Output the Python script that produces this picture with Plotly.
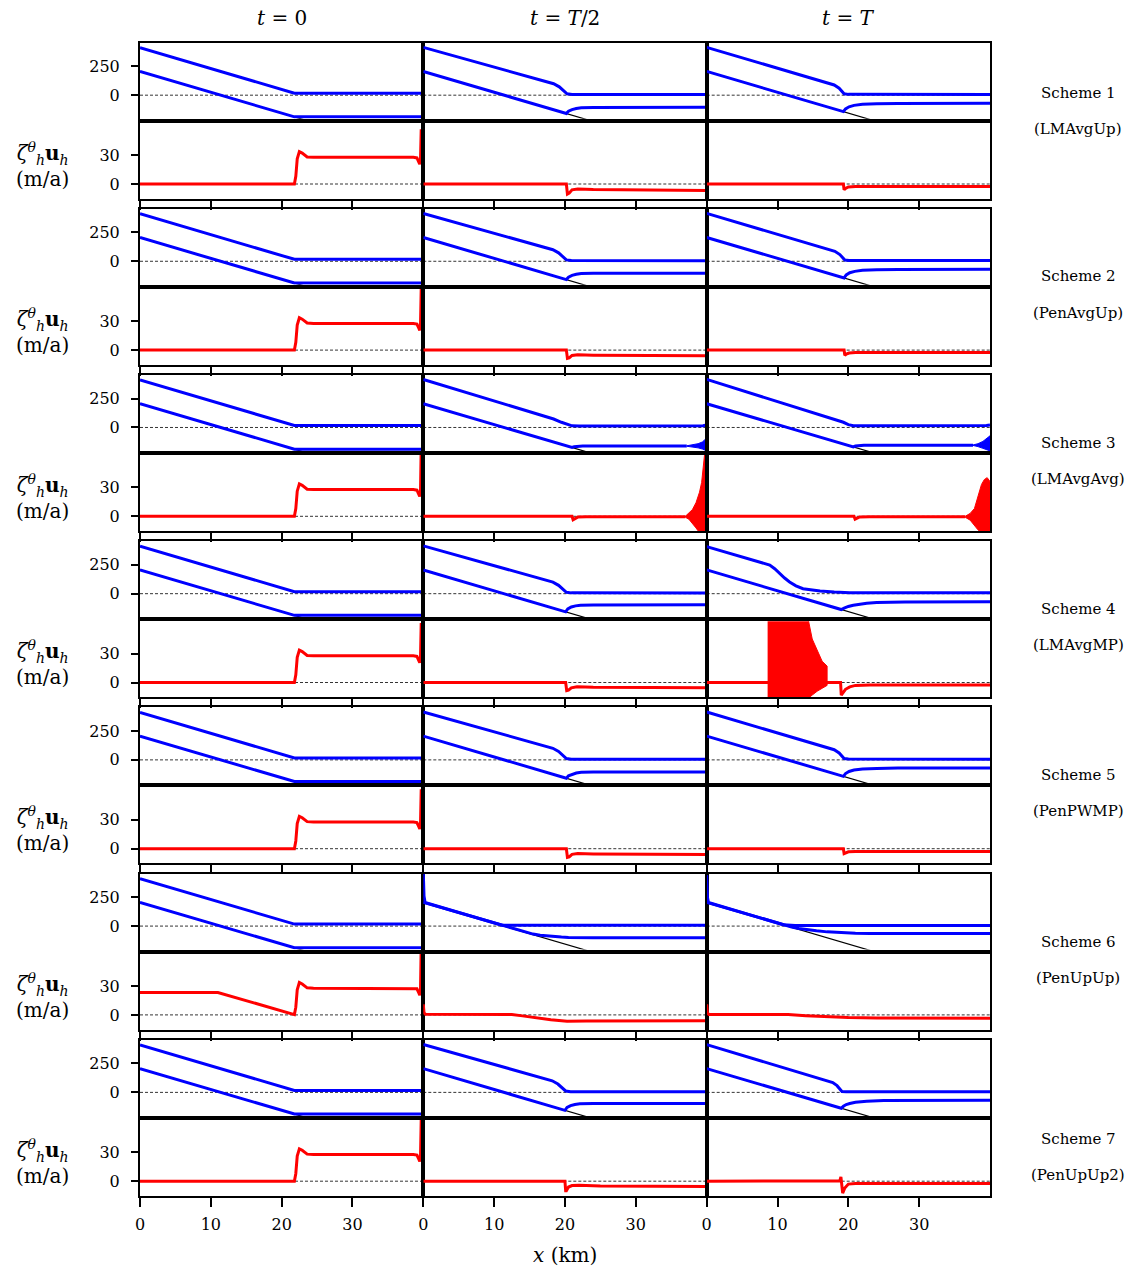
import plotly.graph_objects as go

FIG_W, FIG_H = 1141, 1269

BLUE = "#0000ff"
RED = "#ff0000"
SERIF = "DejaVu Serif"

# ---------------------------------------------------------------- labels / axes
COLUMN_TITLES = ["<i>t</i> = 0", "<i>t</i> = <i>T</i>/2", "<i>t</i> = <i>T</i>"]
SCHEME_NAMES = ["LMAvgUp", "PenAvgUp", "LMAvgAvg", "LMAvgMP", "PenPWMP", "PenUpUp", "PenUpUp2"]
GEO_TICKS = [0, 250]
VEL_TICKS = [0, 30]
X_TICKS = [0, 10, 20, 30]
X_RANGE = [0, 40]
GEO_RANGE = [-203, 453]
VEL_RANGE = [-15.2, 63.4]

# ---------------------------------------------------------------- bed topography (m)
BED_X = [0, 40]
BED_Z = [205, -515]

# ---------------------------------------------------------------- initial state, t = 0
T0_SURF_X = [0, 21.8, 40]
T0_SURF_Z = [410, 17, 17]
T0_BASE_X = [0, 21.8, 40]
T0_BASE_Z = [205, -187, -187]
T0_U_X = [0, 21.8, 22.0, 22.2, 22.5, 22.9, 23.6, 24.5, 38.6, 39.1, 39.35, 39.5, 39.6, 39.7, 40]
T0_U_BODY = [0, 0, 8, 26, 33.5, 32, 28, 27.6, 27.6, 27, 23, 20.5, 24]
T0_SPIKE_TOP = [55, 62, 70, 60, 60, 70, 62]

# ---------------------------------------------------------------- Scheme 1
S1_HALF_SURF_X = [0, 18.4, 19.2, 19.8, 20.3, 21.0, 40]
S1_HALF_SURF_Z = [413, 99, 72, 40, 12, 6, 5]
S1_HALF_BASE_X = [0, 20.2, 20.5, 21.0, 21.6, 22.3, 24, 40]
S1_HALF_BASE_Z = [205, -158, -138, -124, -115, -109, -106, -105]
S1_HALF_U_X = [0, 20.2, 20.35, 20.6, 21.0, 21.8, 24, 40]
S1_HALF_U = [0, 0, -10.5, -9.5, -6, -5.2, -5.8, -6.6]
S1_FULL_SURF_X = [0, 16.9, 18.0, 18.7, 19.1, 19.4, 20.0, 40]
S1_FULL_SURF_Z = [413, 113, 88, 60, 30, 12, 7, 6]
S1_FULL_BASE_X = [0, 19.3, 19.6, 20.1, 20.8, 22, 24, 27, 40]
S1_FULL_BASE_Z = [205, -142, -118, -100, -88, -79, -74, -71, -70]
S1_FULL_U_X = [0, 19.3, 19.4, 19.6, 20.0, 21, 40]
S1_FULL_U = [0, 0, -6, -4.5, -3, -2.5, -2.5]

# ---------------------------------------------------------------- Scheme 2
S2_HALF_SURF_X = [0, 18.3, 19.1, 19.7, 20.2, 20.9, 40]
S2_HALF_SURF_Z = [413, 100, 73, 40, 12, 6, 5]
S2_HALF_BASE_X = [0, 20.2, 20.5, 21.0, 21.6, 22.3, 24, 40]
S2_HALF_BASE_Z = [205, -158, -137, -122, -112, -106, -104, -103]
S2_HALF_U_X = [0, 20.2, 20.35, 20.6, 21.0, 21.8, 24, 40]
S2_HALF_U = [0, 0, -8.5, -8, -5.5, -4.8, -5.2, -5.8]
S2_FULL_SURF_X = [0, 17.0, 18.1, 18.8, 19.2, 19.5, 20.1, 40]
S2_FULL_SURF_Z = [413, 111, 86, 58, 28, 11, 7, 6]
S2_FULL_BASE_X = [0, 19.4, 19.7, 20.2, 20.9, 22, 24, 27, 40]
S2_FULL_BASE_Z = [205, -144, -118, -99, -87, -78, -73, -70, -69]
S2_FULL_U_X = [0, 19.4, 19.5, 19.7, 20.1, 21, 40]
S2_FULL_U = [0, 0, -5.5, -4.2, -3, -2.4, -2.5]

# ---------------------------------------------------------------- Scheme 3 (oscillating front)
S3_HALF_SURF_X = [0, 18.4, 19.5, 20.3, 21.0, 22, 38.5, 39.5, 40]
S3_HALF_SURF_Z = [415, 73, 45, 25, 14, 13, 13, 16, 22]
S3_HALF_BASE_X = [0, 21.0, 21.3, 21.8, 22.5, 24, 37.2]
S3_HALF_BASE_Z = [205, -173, -166, -162, -160, -160, -160]
S3_HALF_BASE_OSC_X = [37.2, 38.0, 38.8, 39.4, 39.8, 40]
S3_HALF_BASE_OSC_TOP = [-158, -152, -140, -125, -105, -92]
S3_HALF_BASE_OSC_BOT = [-162, -168, -176, -186, -196, -202]
S3_HALF_U_X = [0, 21.0, 21.15, 21.4, 21.8, 23, 37.0]
S3_HALF_U = [0, 0, -3.5, -2.5, -0.8, -0.5, -0.5]
S3_HALF_U_OSC_X = [37.0, 37.5, 38.0, 38.5, 39.0, 39.3, 39.6, 39.8, 40]
S3_HALF_U_OSC_TOP = [0, 3, 7, 14, 25, 35, 55, 70, 70]
S3_HALF_U_OSC_BOT = [-1, -3, -7, -12, -17, -17, -17, -17, -17]
S3_FULL_SURF_X = [0, 18.3, 19.3, 20.0, 20.7, 21.5, 38.5, 39.5, 40]
S3_FULL_SURF_Z = [415, 67, 45, 25, 15, 14, 14, 17, 22]
S3_FULL_BASE_X = [0, 20.7, 21.0, 21.5, 22.2, 24, 37.6]
S3_FULL_BASE_Z = [205, -168, -160, -155, -153, -153, -153]
S3_FULL_BASE_OSC_X = [37.6, 38.3, 39.0, 39.5, 40]
S3_FULL_BASE_OSC_TOP = [-151, -140, -120, -95, -72]
S3_FULL_BASE_OSC_BOT = [-155, -165, -180, -194, -202]
S3_FULL_U_X = [0, 20.8, 20.95, 21.2, 21.6, 23, 36.5]
S3_FULL_U = [0, 0, -3, -2.2, -0.6, -0.4, -0.4]
S3_FULL_U_OSC_X = [36.5, 37.2, 37.8, 38.3, 38.8, 39.2, 39.6, 40]
S3_FULL_U_OSC_TOP = [0, 3, 8, 22, 33, 38, 40, 36]
S3_FULL_U_OSC_BOT = [-1, -4, -9, -14, -17, -17, -17, -17]

# ---------------------------------------------------------------- Scheme 4
S4_HALF_SURF_X = [0, 18.3, 19.1, 19.7, 20.2, 20.9, 40]
S4_HALF_SURF_Z = [413, 100, 72, 40, 12, 7, 6]
S4_HALF_BASE_X = [0, 20.1, 20.4, 20.9, 21.5, 22.2, 24, 40]
S4_HALF_BASE_Z = [205, -157, -132, -115, -105, -99, -97, -96]
S4_HALF_U_X = [0, 20.1, 20.25, 20.5, 20.9, 21.7, 24, 40]
S4_HALF_U = [0, 0, -8.5, -8, -5.5, -4.5, -5, -5.5]
S4_FULL_SURF_X = [0, 8.9, 9.6, 10.3, 11.0, 11.7, 12.6, 13.6, 14.8, 16.0, 18.0, 20.2, 40]
S4_FULL_SURF_Z = [406, 247, 215, 174, 135, 101, 68, 43, 30, 23, 14, 9, 7]
S4_FULL_BASE_X = [0, 19.0, 19.4, 20.0, 20.7, 21.6, 22.6, 24.0, 25.4, 28, 40]
S4_FULL_BASE_Z = [205, -137, -125, -110, -100, -89, -82, -76, -73, -71, -70]
S4_FULL_U_X = [0, 18.9, 19.0, 19.2, 19.6, 20.2, 21, 23, 40]
S4_FULL_U = [0, 0, -13, -11, -7, -4.5, -3, -2.6, -2.5]
S4_FULL_U_OSC_X = [8.6, 14.2, 14.9, 15.6, 16.3, 17.0]
S4_FULL_U_OSC_TOP = [70, 70, 45, 33, 22, 17]
S4_FULL_U_OSC_BOT = [-17, -17, -13, -9, -6, -3]

# ---------------------------------------------------------------- Scheme 5
S5_HALF_SURF_X = [0, 18.3, 19.1, 19.7, 20.2, 20.9, 40]
S5_HALF_SURF_Z = [413, 100, 73, 40, 12, 6, 5]
S5_HALF_BASE_X = [0, 20.2, 20.5, 21.0, 21.6, 22.3, 24, 40]
S5_HALF_BASE_Z = [205, -158, -137, -123, -113, -107, -105, -104]
S5_HALF_U_X = [0, 20.2, 20.35, 20.6, 21.0, 21.8, 24, 40]
S5_HALF_U = [0, 0, -9, -8.5, -5.8, -5, -5.4, -6]
S5_FULL_SURF_X = [0, 16.9, 18.0, 18.7, 19.1, 19.4, 20.0, 40]
S5_FULL_SURF_Z = [413, 113, 88, 60, 30, 12, 7, 6]
S5_FULL_BASE_X = [0, 19.3, 19.6, 20.1, 20.8, 22, 24, 27, 40]
S5_FULL_BASE_Z = [205, -142, -118, -100, -88, -79, -74, -71, -70]
S5_FULL_U_X = [0, 19.3, 19.4, 19.6, 20.0, 21, 40]
S5_FULL_U = [0, 0, -5, -4.2, -3.2, -3, -3]

# ---------------------------------------------------------------- Scheme 6
S6_T0_U_X = [0, 11.0, 21.8, 22.0, 22.2, 22.5, 22.9, 23.6, 24.5, 38.6, 39.1, 39.35, 39.5, 39.6, 39.7, 40]
S6_T0_U = [23.2, 23.2, 0.3, 8, 26, 33.5, 32, 28, 27.6, 27.6, 27, 23, 20.5, 24, 70, 70]
S6_HALF_SURF_X = [0, 0.1, 0.25, 11.1, 13, 40]
S6_HALF_SURF_Z = [460, 260, 203, 8, 8, 7]
S6_HALF_BASE_X = [0, 13.0, 14.5, 15.5, 16.5, 17.5, 18.5, 19.5, 20.5, 22, 24, 40]
S6_HALF_BASE_Z = [205, -29, -55, -69, -79, -86, -91, -95, -98, -100, -101, -101]
S6_HALF_U_X = [0, 0.1, 0.3, 12.5, 14, 16, 18, 20.3, 23, 40]
S6_HALF_U = [11, 2, 0.8, 0.5, -1, -3, -5, -6.5, -6.3, -6]
S6_FULL_SURF_X = [0, 0.1, 0.25, 10.8, 12.5, 40]
S6_FULL_SURF_Z = [440, 250, 203, 12, 6, 6]
S6_FULL_BASE_X = [0, 11.0, 12.0, 13.0, 14.0, 15.5, 17.0, 19.0, 21.0, 23.0, 40]
S6_FULL_BASE_Z = [205, 7, -8, -20, -30, -40, -50, -57, -62, -64, -64]
S6_FULL_U_X = [0, 0.1, 0.3, 11.5, 14, 17, 20, 24, 40]
S6_FULL_U = [11, 2, 0.5, 0.3, -0.8, -2, -2.8, -3.2, -3.4]

# ---------------------------------------------------------------- Scheme 7
S7_HALF_SURF_X = [0, 18.2, 19.0, 19.6, 20.1, 20.8, 40]
S7_HALF_SURF_Z = [413, 100, 72, 40, 12, 6, 5]
S7_HALF_BASE_X = [0, 20.0, 20.3, 20.8, 21.4, 22.1, 24, 40]
S7_HALF_BASE_Z = [205, -155, -130, -114, -104, -99, -97, -96]
S7_HALF_U_X = [0, 20.0, 20.1, 20.2, 20.5, 21.0, 22.0, 25, 40]
S7_HALF_U = [0, 0, -10, -10, -6, -4.5, -4.2, -5, -5.5]
S7_FULL_SURF_X = [0, 16.9, 17.8, 18.4, 18.8, 19.1, 19.7, 40]
S7_FULL_SURF_Z = [412, 107, 85, 58, 30, 8, 5, 5]
S7_FULL_BASE_X = [0, 19.0, 19.3, 19.7, 20.2, 21.0, 22.6, 25, 40]
S7_FULL_BASE_Z = [205, -137, -120, -105, -96, -85, -76, -70, -67]
S7_FULL_U_X = [0, 18.8, 18.95, 19.05, 19.2, 19.5, 20.0, 21, 40]
S7_FULL_U = [0, 0.5, 4.5, -3, -12.4, -7, -3, -2.5, -2.5]

# ---------------------------------------------------------------- right-hand labels (pixel rows)
SCHEME_LABEL_Y = [93, 276, 443, 609, 775, 942, 1139]
NAME_LABEL_Y = [129, 313, 479, 645, 811, 978, 1175]


def geo(sx, sz, bx, bz, osc=None):
    return dict(surf=(sx, sz), base=(bx, bz), osc=osc)


def vel(ux, u, osc=None):
    return dict(u=(ux, u), osc=osc)


T0_GEO = geo(T0_SURF_X, T0_SURF_Z, T0_BASE_X, T0_BASE_Z)


def t0_vel(i):
    return vel(T0_U_X, T0_U_BODY + [T0_SPIKE_TOP[i], T0_SPIKE_TOP[i]])


GEO_PANELS = [
    [T0_GEO, geo(S1_HALF_SURF_X, S1_HALF_SURF_Z, S1_HALF_BASE_X, S1_HALF_BASE_Z),
     geo(S1_FULL_SURF_X, S1_FULL_SURF_Z, S1_FULL_BASE_X, S1_FULL_BASE_Z)],
    [T0_GEO, geo(S2_HALF_SURF_X, S2_HALF_SURF_Z, S2_HALF_BASE_X, S2_HALF_BASE_Z),
     geo(S2_FULL_SURF_X, S2_FULL_SURF_Z, S2_FULL_BASE_X, S2_FULL_BASE_Z)],
    [T0_GEO,
     geo(S3_HALF_SURF_X, S3_HALF_SURF_Z, S3_HALF_BASE_X, S3_HALF_BASE_Z,
         (S3_HALF_BASE_OSC_X, S3_HALF_BASE_OSC_TOP, S3_HALF_BASE_OSC_BOT)),
     geo(S3_FULL_SURF_X, S3_FULL_SURF_Z, S3_FULL_BASE_X, S3_FULL_BASE_Z,
         (S3_FULL_BASE_OSC_X, S3_FULL_BASE_OSC_TOP, S3_FULL_BASE_OSC_BOT))],
    [T0_GEO, geo(S4_HALF_SURF_X, S4_HALF_SURF_Z, S4_HALF_BASE_X, S4_HALF_BASE_Z),
     geo(S4_FULL_SURF_X, S4_FULL_SURF_Z, S4_FULL_BASE_X, S4_FULL_BASE_Z)],
    [T0_GEO, geo(S5_HALF_SURF_X, S5_HALF_SURF_Z, S5_HALF_BASE_X, S5_HALF_BASE_Z),
     geo(S5_FULL_SURF_X, S5_FULL_SURF_Z, S5_FULL_BASE_X, S5_FULL_BASE_Z)],
    [T0_GEO, geo(S6_HALF_SURF_X, S6_HALF_SURF_Z, S6_HALF_BASE_X, S6_HALF_BASE_Z),
     geo(S6_FULL_SURF_X, S6_FULL_SURF_Z, S6_FULL_BASE_X, S6_FULL_BASE_Z)],
    [T0_GEO, geo(S7_HALF_SURF_X, S7_HALF_SURF_Z, S7_HALF_BASE_X, S7_HALF_BASE_Z),
     geo(S7_FULL_SURF_X, S7_FULL_SURF_Z, S7_FULL_BASE_X, S7_FULL_BASE_Z)],
]

VEL_PANELS = [
    [t0_vel(0), vel(S1_HALF_U_X, S1_HALF_U), vel(S1_FULL_U_X, S1_FULL_U)],
    [t0_vel(1), vel(S2_HALF_U_X, S2_HALF_U), vel(S2_FULL_U_X, S2_FULL_U)],
    [t0_vel(2),
     vel(S3_HALF_U_X, S3_HALF_U, (S3_HALF_U_OSC_X, S3_HALF_U_OSC_TOP, S3_HALF_U_OSC_BOT)),
     vel(S3_FULL_U_X, S3_FULL_U, (S3_FULL_U_OSC_X, S3_FULL_U_OSC_TOP, S3_FULL_U_OSC_BOT))],
    [t0_vel(3), vel(S4_HALF_U_X, S4_HALF_U),
     vel(S4_FULL_U_X, S4_FULL_U, (S4_FULL_U_OSC_X, S4_FULL_U_OSC_TOP, S4_FULL_U_OSC_BOT))],
    [t0_vel(4), vel(S5_HALF_U_X, S5_HALF_U), vel(S5_FULL_U_X, S5_FULL_U)],
    [vel(S6_T0_U_X, S6_T0_U), vel(S6_HALF_U_X, S6_HALF_U), vel(S6_FULL_U_X, S6_FULL_U)],
    [t0_vel(6), vel(S7_HALF_U_X, S7_HALF_U), vel(S7_FULL_U_X, S7_FULL_U)],
]

# ---------------------------------------------------------------- panel placement (pixels)
COL_LEFT = [140, 423.3, 706.7]
COL_W = 283.3
GEO_TOP = [42.7, 208.8, 375.0, 541.2, 707.4, 873.6, 1039.9]
PANEL_H = 76
VEL_SHIFT = 80


def px_x(p):
    return p / FIG_W


def px_y(p):
    return 1 - p / FIG_H


def ref(n):
    return ("x", "y") if n == 1 else (f"x{n}", f"y{n}")


fig = go.Figure()
layout = {}
shapes = []
tick_font = dict(family=SERIF, size=16, color="black")


def band(xs, top, bot):
    return list(xs) + list(xs)[::-1], list(top) + list(bot)[::-1]


for i in range(7):
    for r in range(2):
        for c in range(3):
            n = (2 * i + r) * 3 + c + 1
            xr, yr = ref(n)
            top = GEO_TOP[i] + r * VEL_SHIFT
            is_vel = r == 1
            xa = dict(
                domain=[px_x(COL_LEFT[c]), px_x(COL_LEFT[c] + COL_W)],
                range=X_RANGE, anchor=yr, showgrid=False, zeroline=False,
                automargin=False,
                showline=True, mirror=True, linecolor="black", linewidth=2,
                ticks="outside" if is_vel else "", tickvals=X_TICKS if is_vel else [],
                ticklen=9, tickwidth=2, tickcolor="black",
                showticklabels=(is_vel and i == 6), tickfont=tick_font,
                ticklabelstandoff=4,
            )
            ya = dict(
                domain=[px_y(top + PANEL_H), px_y(top)],
                range=VEL_RANGE if is_vel else GEO_RANGE, anchor=xr,
                showgrid=False, zeroline=False, automargin=False,
                showline=True, mirror=True, linecolor="black", linewidth=2,
                ticks="outside" if c == 0 else "",
                tickvals=(VEL_TICKS if is_vel else GEO_TICKS) if c == 0 else [],
                ticklen=7, tickwidth=2, tickcolor="black",
                showticklabels=(c == 0), tickfont=tick_font,
                ticklabelstandoff=8,
            )
            layout["xaxis" if n == 1 else f"xaxis{n}"] = xa
            layout["yaxis" if n == 1 else f"yaxis{n}"] = ya

            # dashed zero reference
            shapes.append(dict(
                type="line", xref=f"{xr} domain", yref=yr, x0=0, x1=1, y0=0, y1=0,
                line=dict(color="black", width=0.8, dash="3px,2px"), layer="below",
            ))

            if not is_vel:
                p = GEO_PANELS[i][c]
                fig.add_trace(go.Scatter(x=BED_X, y=BED_Z, mode="lines",
                                         line=dict(color="black", width=1.2),
                                         xaxis=xr, yaxis=yr, hoverinfo="skip"))
                for key in ("base", "surf"):
                    lx, lz = p[key]
                    fig.add_trace(go.Scatter(x=lx, y=lz, mode="lines",
                                             line=dict(color=BLUE, width=3),
                                             xaxis=xr, yaxis=yr))
                if p["osc"] is not None:
                    bx, by = band(*p["osc"])
                    fig.add_trace(go.Scatter(x=bx, y=by, mode="lines", fill="toself",
                                             fillcolor=BLUE, line=dict(color=BLUE, width=1),
                                             xaxis=xr, yaxis=yr))
            else:
                p = VEL_PANELS[i][c]
                ux, uu = p["u"]
                fig.add_trace(go.Scatter(x=ux, y=uu, mode="lines",
                                         line=dict(color=RED, width=3),
                                         xaxis=xr, yaxis=yr))
                if p["osc"] is not None:
                    bx, by = band(*p["osc"])
                    fig.add_trace(go.Scatter(x=bx, y=by, mode="lines", fill="toself",
                                             fillcolor=RED, line=dict(color=RED, width=1),
                                             xaxis=xr, yaxis=yr))

annotations = []
# column headings
for c, title in enumerate(COLUMN_TITLES):
    annotations.append(dict(text=title, x=px_x(COL_LEFT[c] + COL_W / 2), y=px_y(18),
                            xref="paper", yref="paper", showarrow=False,
                            xanchor="center", yanchor="middle",
                            font=dict(family=SERIF, size=20, color="black")))

# velocity label beside each velocity row, scheme names on the right
for i in range(7):
    vel_mid = GEO_TOP[i] + VEL_SHIFT + PANEL_H / 2 + 4
    annotations.append(dict(
        text="<i>ζ</i><sup><i>θ</i></sup><sub><i>h</i></sub><b>u</b><sub><i>h</i></sub><br>(m/a)",
        x=px_x(42), y=px_y(vel_mid), xref="paper", yref="paper", showarrow=False,
        xanchor="center", yanchor="middle", align="center",
        font=dict(family=SERIF, size=20, color="black")))
    annotations.append(dict(text=f"Scheme {i + 1}", x=px_x(1078), y=px_y(SCHEME_LABEL_Y[i]),
                            xref="paper", yref="paper", showarrow=False,
                            xanchor="center", yanchor="middle",
                            font=dict(family=SERIF, size=15, color="black")))
    annotations.append(dict(text=f"({SCHEME_NAMES[i]})", x=px_x(1078), y=px_y(NAME_LABEL_Y[i]),
                            xref="paper", yref="paper", showarrow=False,
                            xanchor="center", yanchor="middle",
                            font=dict(family=SERIF, size=15, color="black")))

# shared x-axis title
annotations.append(dict(text="<i>x</i> (km)", x=px_x(565), y=px_y(1255),
                        xref="paper", yref="paper", showarrow=False,
                        xanchor="center", yanchor="middle",
                        font=dict(family=SERIF, size=20, color="black")))

fig.update_layout(
    width=FIG_W, height=FIG_H,
    margin=dict(l=0, r=0, t=0, b=0),
    paper_bgcolor="white", plot_bgcolor="white",
    showlegend=False,
    shapes=shapes, annotations=annotations,
    **layout,
)

fig.write_html("out.html")
